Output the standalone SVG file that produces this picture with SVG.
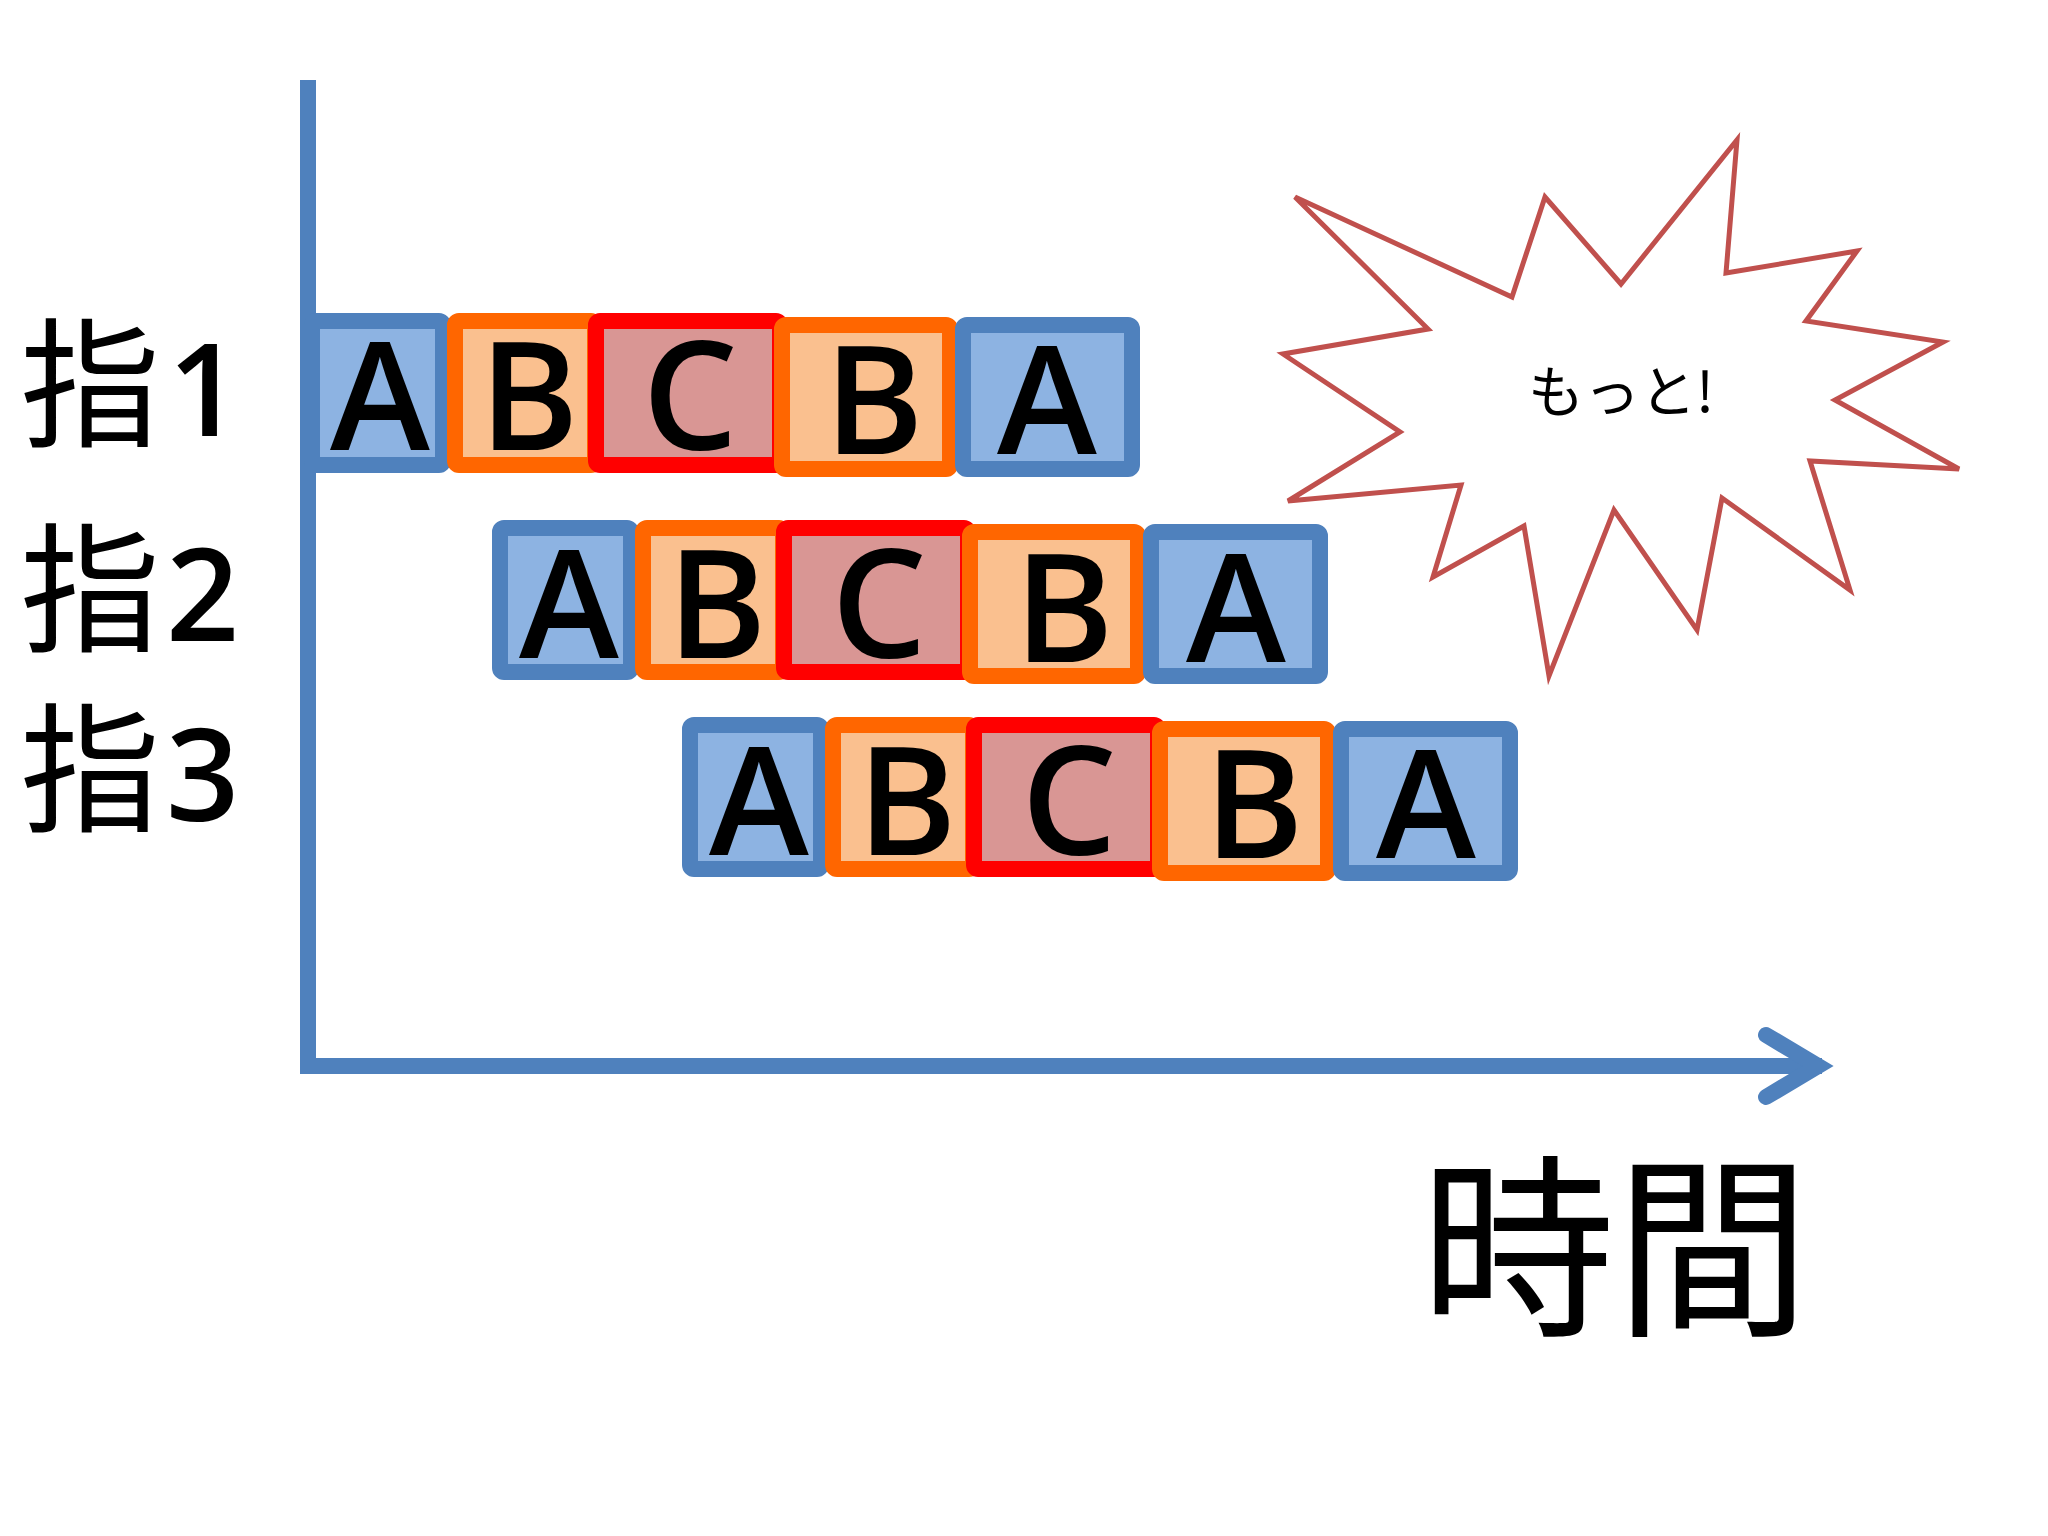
<svg xmlns="http://www.w3.org/2000/svg" width="2048" height="1536" viewBox="0 0 2048 1536">
<style>
.a{fill:#8DB3E2;stroke:#4F81BD;stroke-width:16}
.b{fill:#FAC08F;stroke:#FF6600;stroke-width:16}
.c{fill:#D99694;stroke:#FF0000;stroke-width:16}
.t{font-family:"Open Sans","Liberation Sans",sans-serif;font-size:151px;font-weight:600;fill:#000;text-anchor:middle}
.lbl{font-family:"Noto Sans CJK JP",sans-serif;fill:#000}
.num{font-family:"Open Sans","Liberation Sans",sans-serif;font-size:128px;font-weight:600}
</style>
<rect width="2048" height="1536" fill="#fff"/>
<g id="axes" fill="none" stroke="#4F81BD" stroke-width="16">
<line x1="308" y1="80" x2="308" y2="1074"/>
<line x1="308" y1="1066" x2="1822" y2="1066"/>
<polyline points="1766,1035 1818,1066 1766,1097" stroke-linecap="round" stroke-linejoin="miter" stroke-miterlimit="10"/>
</g>
<g id="row1">
<g id="r1-A1"><rect class="a" x="312" y="321" width="131" height="144" rx="4"/><text class="t" x="380" y="450">A</text></g>
<g id="r1-B1"><rect class="b" x="455" y="321" width="140" height="144" rx="4"/><text class="t" x="529" y="450">B</text></g>
<g id="r1-C"><rect class="c" x="596" y="321" width="184" height="144" rx="4"/><text class="t" x="690" y="450">C</text></g>
<g id="r1-B2"><rect class="b" x="782" y="325" width="168" height="144" rx="4"/><text class="t" x="874" y="454">B</text></g>
<g id="r1-A2"><rect class="a" x="963" y="325" width="169" height="144" rx="4"/><text class="t" x="1047" y="454">A</text></g>
</g>
<g id="row2">
<g id="r2-A1"><rect class="a" x="500" y="528" width="131" height="144" rx="4"/><text class="t" x="569" y="658">A</text></g>
<g id="r2-B1"><rect class="b" x="643" y="528" width="140" height="144" rx="4"/><text class="t" x="717" y="658">B</text></g>
<g id="r2-C"><rect class="c" x="784" y="528" width="184" height="144" rx="4"/><text class="t" x="879" y="658">C</text></g>
<g id="r2-B2"><rect class="b" x="970" y="532" width="168" height="144" rx="4"/><text class="t" x="1064" y="662">B</text></g>
<g id="r2-A2"><rect class="a" x="1151" y="532" width="169" height="144" rx="4"/><text class="t" x="1236" y="662">A</text></g>
</g>
<g id="row3">
<g id="r3-A1"><rect class="a" x="690" y="725" width="131" height="144" rx="4"/><text class="t" x="759" y="855">A</text></g>
<g id="r3-B1"><rect class="b" x="833" y="725" width="140" height="144" rx="4"/><text class="t" x="907" y="855">B</text></g>
<g id="r3-C"><rect class="c" x="974" y="725" width="184" height="144" rx="4"/><text class="t" x="1069" y="855">C</text></g>
<g id="r3-B2"><rect class="b" x="1160" y="729" width="168" height="144" rx="4"/><text class="t" x="1254" y="858">B</text></g>
<g id="r3-A2"><rect class="a" x="1341" y="729" width="169" height="144" rx="4"/><text class="t" x="1426" y="858">A</text></g>
</g>
<g id="labels">
<text class="lbl" x="20" y="436" font-size="140">指<tspan class="num" x="168">1</tspan></text>
<text class="lbl" x="20" y="641" font-size="140">指<tspan class="num" x="166">2</tspan></text>
<text class="lbl" x="20" y="821" font-size="140">指<tspan class="num" x="166">3</tspan></text>
<text id="time" class="lbl" x="1420" y="1321" font-size="195">時間</text>
</g>
<g id="burst">
<polygon points="1295,197 1512,297 1545,197 1621,284 1737,140 1726,273 1857,251 1806,321 1943,342 1835,400 1959,469 1810,461 1850,590 1722,498 1697,630 1614,510 1549,676 1524,526 1433,577 1461,485 1288,501 1400,432 1283,354 1428,329" fill="#fff" stroke="#C0504D" stroke-width="5"/>
<text class="lbl" x="1621" y="412" font-size="56" text-anchor="middle">もっと!</text>
</g>
</svg>
